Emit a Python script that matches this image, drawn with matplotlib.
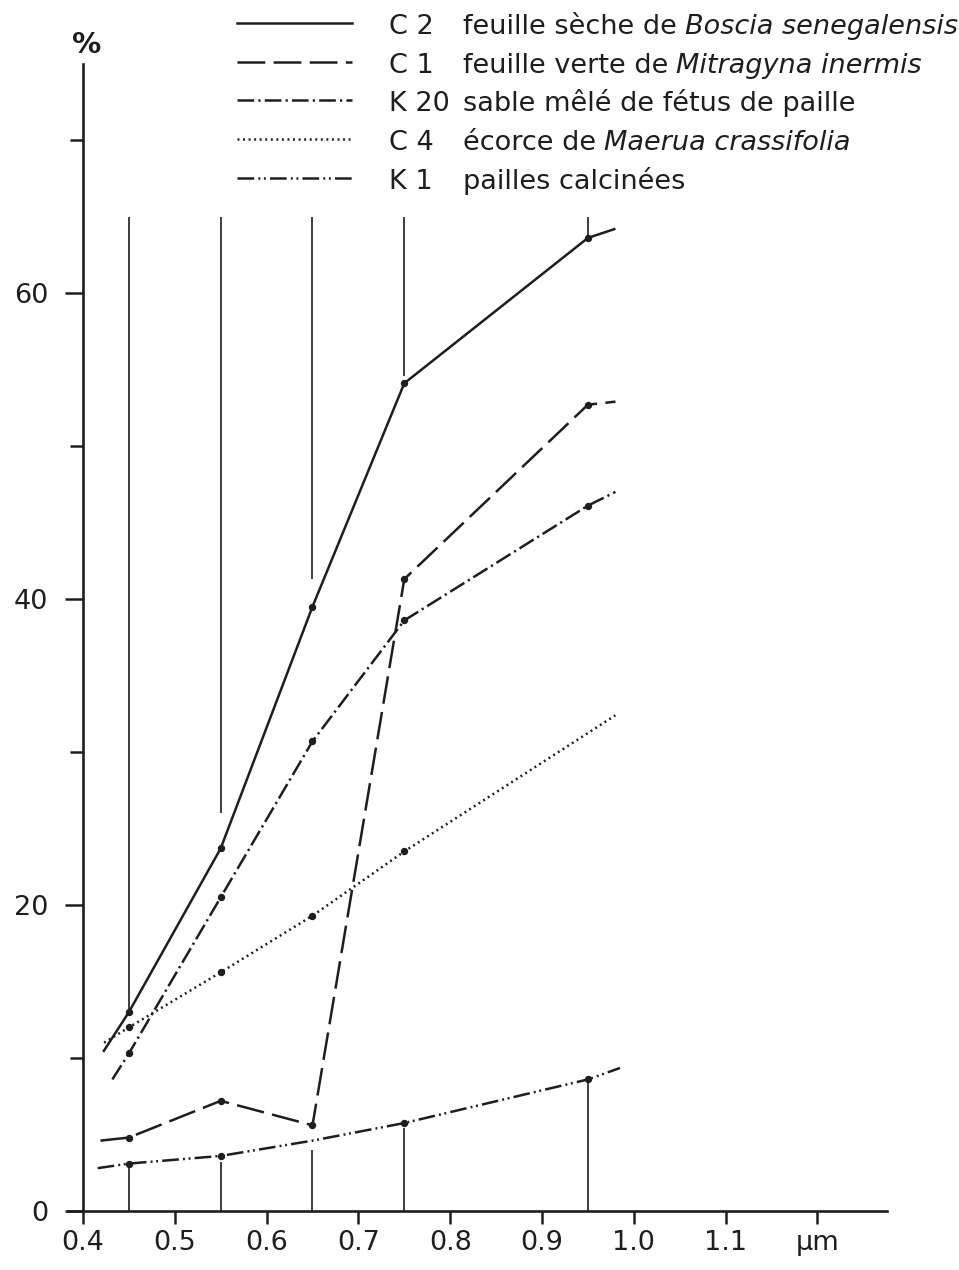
import matplotlib
matplotlib.use("Agg")
import matplotlib.pyplot as plt
from matplotlib.lines import Line2D
from matplotlib.ticker import FixedLocator

plt.rcParams['font.family'] = ['DejaVu Sans']
plt.rcParams['lines.scale_dashes'] = False

INK = '#1e1e1e'

# wavelength (µm) and % for each sample
c2_x = [0.422, 0.45, 0.55, 0.65, 0.75, 0.95, 0.98]
c2_y = [10.4, 13.0, 23.7, 39.5, 54.1, 63.6, 64.2]

c1_x = [0.419, 0.45, 0.55, 0.65, 0.75, 0.95, 0.98]
c1_y = [4.6, 4.8, 7.2, 5.6, 41.3, 52.7, 52.9]

k20_x = [0.432, 0.45, 0.55, 0.65, 0.75, 0.95, 0.98]
k20_y = [8.6, 10.3, 20.5, 30.7, 38.6, 46.1, 47.0]

c4_x = [0.423, 0.45, 0.55, 0.65, 0.75, 0.98]
c4_y = [11.0, 12.0, 15.6, 19.3, 23.5, 32.4]

k1_x = [0.416, 0.45, 0.55, 0.65, 0.75, 0.95, 0.985]
k1_y = [2.8, 3.1, 3.6, 4.6, 5.75, 8.6, 9.35]

# band limits drawn as vertical strokes
band_x = [0.45, 0.55, 0.65, 0.75, 0.95]
band_top = 65
band_top_end = [13.0, 26.0, 41.3, 54.6, 63.6]
band_bottom_end = [2.9, 3.2, 4.0, 5.4, 8.4]

x_ticks = [0.4, 0.5, 0.6, 0.7, 0.8, 0.9, 1.0, 1.1, 1.2]
x_tick_labels = ['0.4', '0.5', '0.6', '0.7', '0.8', '0.9', '1.0', '1.1', 'µm']
y_major = [0, 20, 40, 60]
y_minor = [10, 30, 50, 70]

series = [
    ('C 2', ['feuille sèche de ', ('Boscia senegalensis', 'italic')], c2_x, c2_y, '-', [1, 2, 3, 4, 5]),
    ('C 1', ['feuille verte de ', ('Mitragyna inermis', 'italic')], c1_x, c1_y, (0, (20, 6)), [1, 2, 3, 4, 5]),
    ('K 20', ['sable mêlé de fétus de paille'], k20_x, k20_y, (0, (12, 3, 1.6, 3)), [1, 2, 3, 4, 5]),
    ('C 4', ['écorce de ', ('Maerua crassifolia', 'italic')], c4_x, c4_y, (0, (1.4, 2.6)), [1, 2, 3, 4]),
    ('K 1', ['pailles calcinées'], k1_x, k1_y, (0, (12, 3, 1.4, 2.6, 1.4, 3)), [1, 2, 4, 5]),
]

W, H = 959, 1270
fig = plt.figure(figsize=(W / 100, H / 100), dpi=100)
ax = fig.add_axes([60 / W, 30 / H, 840 / W, 1210 / H])
ax.set_xlim(0.37495, 1.28998)
ax.set_ylim(-1.895, 77.19)

for code, desc, xs, ys, ls, marks in series:
    ax.plot(xs, ys, color=INK, lw=1.8, linestyle=ls, marker='o', ms=4.3,
            markevery=marks, solid_capstyle='butt', dash_capstyle='butt')

ax.vlines(band_x, band_top_end, band_top, color=INK, lw=1.2)
ax.vlines(band_x, 0, band_bottom_end, color=INK, lw=1.2)

# axes
for s in ['top', 'right']:
    ax.spines[s].set_visible(False)
ax.spines['left'].set_position(('data', 0.4))
ax.spines['bottom'].set_position(('data', 0))
ax.spines['left'].set_bounds(0, 75)
ax.spines['bottom'].set_bounds(0.384, 1.276)
for s in ['left', 'bottom']:
    ax.spines[s].set_linewidth(1.9)
    ax.spines[s].set_color(INK)

ax.xaxis.set_major_locator(FixedLocator(x_ticks))
ax.set_xticklabels(x_tick_labels)
ax.yaxis.set_major_locator(FixedLocator(y_major))
ax.yaxis.set_minor_locator(FixedLocator(y_minor))
ax.set_yticklabels([str(v) for v in y_major])
ax.tick_params(axis='x', direction='out', length=9.5, width=1.8, color=INK,
               labelsize=19.5, pad=4, labelcolor=INK)
ax.tick_params(axis='y', which='major', direction='out', length=13, width=1.8, color=INK,
               labelsize=19.5, pad=12, labelcolor=INK)
ax.tick_params(axis='y', which='minor', direction='out', length=9.5, width=1.8, color=INK)

fig.text(87 / W, 1 - 45 / H, '%', fontsize=21, fontweight='bold', color=INK,
         ha='center', va='center')

# legend drawn by hand
rows_y = [23, 62, 100, 139, 178]
fig.canvas.draw()
renderer = fig.canvas.get_renderer()
for (code, desc, xs, ys, ls, marks), ly in zip(series, rows_y):
    fy = 1 - ly / H
    fig.add_artist(Line2D([237 / W, 352 / W], [fy, fy], transform=fig.transFigure,
                          color=INK, lw=1.8, linestyle=ls))
    base = 1 - (ly + 11) / H
    fig.text(389 / W, base, code, fontsize=19.5, color=INK, va='baseline')
    xpos = 463
    for piece in desc:
        if isinstance(piece, tuple):
            txt, style = piece
        else:
            txt, style = piece, 'normal'
        t = fig.text(xpos / W, base, txt.strip(), fontsize=19.5, color=INK,
                     va='baseline', style=style)
        xpos += t.get_window_extent(renderer).width + (8 if txt.endswith(' ') else 0)

fig.savefig('out.png', dpi=100, facecolor='white')
